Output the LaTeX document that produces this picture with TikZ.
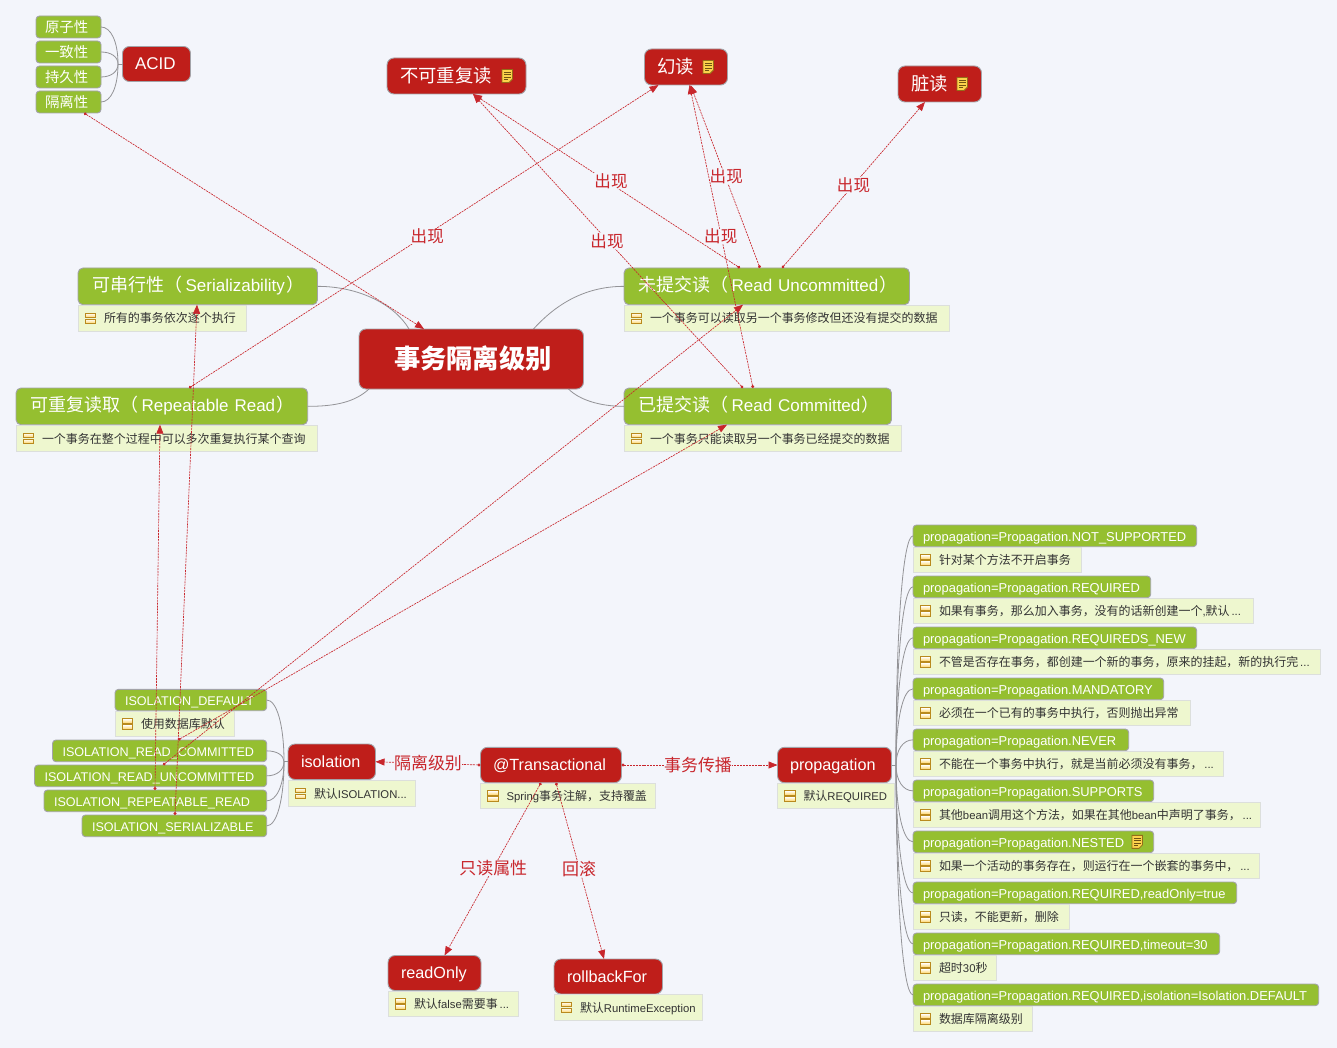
\documentclass[tikz,border=0pt]{standalone}
\usepackage{fontspec}
\setmainfont{Liberation Sans}
\newfontfamily\cjk[Scale=1.06]{Noto Sans CJK SC}
\newcommand{\Z}[1]{{\cjk #1}}
\usetikzlibrary{arrows.meta,calc}
\definecolor{bgc}{HTML}{F3F5FB}
\definecolor{grn}{HTML}{95BF30}
\definecolor{rd}{HTML}{BF1E1A}
\definecolor{edge}{HTML}{A3A3A8}
\definecolor{notec}{HTML}{EEF7CF}
\definecolor{noteb}{HTML}{DCDFDC}
\definecolor{relc}{HTML}{C8262C}
\definecolor{gold}{HTML}{B98A1E}
\tikzset{
  gbox/.style={draw=edge,fill=grn,rounded corners=3.5pt,line width=.9pt,text=white,outer sep=0pt},
  rbox/.style={draw=edge,fill=rd,rounded corners=7pt,line width=.9pt,text=white,outer sep=0pt},
  smallg/.style={gbox,font=\fontsize{13.6}{15}\selectfont,text height=12pt,text depth=0pt},
  tallg/.style={gbox,rounded corners=5pt,font=\fontsize{17}{19}\selectfont,text height=10.5pt,text depth=0pt},
  rowg/.style={gbox,font=\fontsize{12.9}{15}\selectfont,text height=11.5pt,text depth=0pt},
  isog/.style={gbox,font=\fontsize{12.6}{15}\selectfont,text height=10.5pt,text depth=0pt},
  redt/.style={rbox,font=\fontsize{16.2}{19}\selectfont,text height=11pt,text depth=0pt},
  redz/.style={rbox,font=\fontsize{17.3}{19}\selectfont,text height=12.5pt,text depth=0pt},
  redc/.style={rbox,font=\fontsize{24.8}{28}\bfseries\selectfont,text height=18pt,text depth=0pt},
  notebox/.style={draw=noteb,fill=notec,line width=.9pt,text=black!80,outer sep=0pt,font=\fontsize{11.3}{14}\selectfont,text height=9.5pt,text depth=0pt},
  tree/.style={draw=edge!90!black,line width=.8pt},
  rel/.style={draw=relc,line width=.65pt,dash pattern=on 2pt off .9pt,{Circle[length=3pt,fill=relc]}-{Triangle[length=9pt,width=7pt,fill=relc]}},
  lab/.style={fill=bgc,text=relc,inner sep=0pt,outer sep=0pt,font=\fontsize{15.6}{18}\selectfont},
  labw/.style={lab,font=\fontsize{16}{18}\selectfont},
  listicon/.pic={
    \draw[draw=gold,line width=.8pt,top color=white,bottom color=yellow!45!orange!60] (0,-5.2) rectangle (10.5,-.8);
    \draw[draw=gold,line width=.8pt,top color=white,bottom color=yellow!45!orange!60] (0,.8) rectangle (10.5,5.2);
  },
  docicon/.pic={
    \fill[draw=gold!80!black,line width=.8pt,fill=yellow!55!orange!70] (0,-6.5) -- (10.5,-6.5) -- (10.5,3) -- (7,6.5) -- (0,6.5) -- cycle;
    \draw[gold!60!black,line width=.7pt] (2,-3.8) -- (8.5,-3.8) (2,-1.4) -- (8.5,-1.4) (2,1) -- (8.5,1) (2,3.4) -- (6,3.4);
  },
}
\newcommand{\bx}[8]{%
  \pgfmathsetlengthmacro\bxw{#5-#3-2*#7}%
  \pgfmathsetlengthmacro\bxh{#6-#4}%
  \node[#1,anchor=north west,inner xsep=#7pt,inner ysep=0pt,minimum height=\bxh] (#2) at (#3,#4) {\makebox[\bxw][l]{#8}};}
\newcommand{\nt}[6]{%
  \bx{notebox}{#1}{#2}{#3}{#4}{#5}{26}{#6}%
  \pic at ([xshift=7pt]#1.west) {listicon};}
\newcommand{\grow}[4]{\draw[tree] (#1) .. controls ($(#1)!.6!(#1 |- #2.#3)$) and ($(#2.#3)+(#4,0)$) .. (#2.#3);}
% propagation row: id, top y, right of title, right of note, title, note
\newcommand{\prow}[6]{%
  \pgfmathsetmacro\yb{#2+21.7}\pgfmathsetmacro\yn{#2+22.5}\pgfmathsetmacro\ye{#2+47.5}%
  \bx{rowg}{pg#1}{913}{#2}{#3}{\yb}{10}{#5}%
  \nt{pn#1}{913}{\yn}{#4}{\ye}{#6}}
\begin{document}
\begin{tikzpicture}[x=1pt,y=-1pt]
\useasboundingbox (0,0) rectangle (1337,1048);
\fill[bgc] (0,0) rectangle (1337,1048);

% ---- nodes ----
\bx{smallg}{g1}{36}{16}{101}{38}{9}{\Z{原子性}}
\bx{smallg}{g2}{36}{41}{101}{63}{9}{\Z{一致性}}
\bx{smallg}{g3}{36}{66}{101}{88}{9}{\Z{持久性}}
\bx{smallg}{g4}{36}{91}{101}{113}{9}{\Z{隔离性}}
\bx{redt}{acid}{122.5}{46.5}{190.5}{81.5}{12.5}{\fontsize{17}{19}\selectfont ACID}
\bx{redz}{buke}{387}{58}{526}{94}{13}{\Z{不可重复读}}
\bx{redz}{huan}{644.5}{49}{727.5}{85}{13}{\Z{幻读}}
\bx{redz}{zang}{898}{66}{981.5}{102}{13}{\Z{脏读}}
\bx{redc}{center}{359}{329}{583.5}{389}{35}{\Z{事务隔离级别}}

\bx{tallg}{cx}{78}{268}{317.5}{304.7}{14}{\Z{可串行性（}\hspace{3.5pt}Serializability\hspace{1.5pt}\Z{）}}
\nt{cxn}{78}{305.5}{246.5}{331}{\Z{所有的事务依次逐个执行}}
\bx{tallg}{wt}{624}{268}{909.5}{304.7}{14}{\Z{未提交读（}\hspace{3.5pt}Read\hspace{6pt}Uncommitted\hspace{1.5pt}\Z{）}}
\nt{wtn}{624}{305.5}{949.5}{331}{\Z{一个事务可以读取另一个事务修改但还没有提交的数据}}
\bx{tallg}{rr}{16}{388}{307.7}{424.7}{14}{\Z{可重复读取（}\hspace{3.5pt}Repeatable\hspace{6pt}Read\hspace{1.5pt}\Z{）}}
\nt{rrn}{16}{425.5}{317.5}{451}{\Z{一个事务在整个过程中可以多次重复执行某个查询}}
\bx{tallg}{yt}{624}{388}{891.5}{424.7}{14}{\Z{已提交读（}\hspace{3.5pt}Read\hspace{6pt}Committed\hspace{1.5pt}\Z{）}}
\nt{ytn}{624}{425.5}{901.5}{451}{\Z{一个事务只能读取另一个事务已经提交的数据}}

\bx{isog}{idef}{115}{689.3}{266.7}{710.7}{10}{ISOLATION\_DEFAULT}
\nt{idefn}{115}{711.5}{234.5}{736.5}{\Z{使用数据库默认}}
\bx{isog}{icom}{52.5}{740}{266.7}{761.7}{10}{ISOLATION\_READ\_COMMITTED}
\bx{isog}{iunc}{34.5}{765}{266.7}{786.7}{10}{ISOLATION\_READ\_UNCOMMITTED}
\bx{isog}{irep}{44}{790}{266.7}{811.7}{10}{ISOLATION\_REPEATABLE\_READ}
\bx{isog}{iser}{82}{815}{266.7}{836.7}{10}{ISOLATION\_SERIALIZABLE}

\bx{redt}{iso}{288}{744}{375.5}{779.5}{13}{isolation}
\nt{ison}{288}{780.5}{415.5}{806}{\Z{默认}ISOLATION...}
\bx{redt}{trans}{480.5}{747.3}{621.5}{782.7}{12.5}{@Transactional}
\nt{transn}{480.5}{783.5}{655.5}{808.5}{Spring\Z{事务注解，支持覆盖}}
\bx{redt}{prop}{777.5}{747.3}{891.5}{782.7}{12.5}{propagation}
\nt{propn}{777.5}{783.5}{894.5}{808.5}{\Z{默认}REQUIRED}
\bx{redt}{ro}{388}{955.5}{481}{990.5}{13}{readOnly}
\nt{ron}{388}{991.5}{518.5}{1016.5}{\Z{默认}false\Z{需要事}\,...}
\bx{redt}{rb}{554}{959}{662.5}{994}{13}{rollbackFor}
\nt{rbn}{554}{994.5}{702.5}{1020}{\Z{默认}RuntimeException}

\prow{1}{525}{1196.7}{1081.7}{propagation=Propagation.NOT\_SUPPORTED}{\Z{针对某个方法不开启事务}}
\prow{2}{576}{1150.7}{1253.7}{propagation=Propagation.REQUIRED}{\Z{如果有事务，那么加入事务，没有的话新创建一个}{,}\Z{默认}\,...}
\prow{3}{627}{1196.7}{1320.7}{propagation=Propagation.REQUIREDS\_NEW}{\Z{不管是否存在事务，都创建一个新的事务，原来的挂起，新的执行完}\,...}
\prow{4}{678}{1163.7}{1190.7}{propagation=Propagation.MANDATORY}{\Z{必须在一个已有的事务中执行，否则抛出异常}}
\prow{5}{729}{1128.7}{1223.7}{propagation=Propagation.NEVER}{\Z{不能在一个事务中执行，就是当前必须没有事务，}\,...}
\prow{6}{780}{1153.7}{1260.7}{propagation=Propagation.SUPPORTS}{\Z{其他}bean\Z{调用这个方法，如果在其他}bean\Z{中声明了事务，}\,...}
\prow{7}{831}{1153.7}{1259.7}{propagation=Propagation.NESTED}{\Z{如果一个活动的事务存在，则运行在一个嵌套的事务中，}\,...}
\prow{8}{882}{1236.7}{1069.7}{propagation=Propagation.REQUIRED,readOnly=true}{\Z{只读，不能更新，删除}}
\prow{9}{933}{1219.7}{996.7}{propagation=Propagation.REQUIRED,timeout=30}{\Z{超时}30\Z{秒}}
\prow{10}{984}{1318.7}{1032.7}{propagation=Propagation.REQUIRED,isolation=Isolation.DEFAULT}{\Z{数据库隔离级别}}

\pic at ([xshift=115pt]buke.west) {docicon};
\pic at ([xshift=58.5pt]huan.west) {docicon};
\pic at ([xshift=59pt]zang.west) {docicon};
\pic at ([xshift=219pt]pg7.west) {docicon};

% ---- tree connectors ----
\coordinate (ja) at ([xshift=-4.5pt]acid.west);
\draw[tree] (acid.west) -- (ja);
\foreach \c in {g1,g2,g3,g4} {\grow{ja}{\c}{east}{10}}
\coordinate (ji) at ([xshift=-4pt]iso.west);
\draw[tree] (iso.west) -- (ji);
\foreach \c in {idef,icom,iunc,irep,iser} {\grow{ji}{\c}{east}{10}}
\coordinate (jp) at ([xshift=4.5pt]prop.east);
\draw[tree] (prop.east) -- (jp);
\foreach \c in {pg1,pg2,pg3,pg4,pg5,pg6,pg7,pg8,pg9,pg10} {\grow{jp}{\c}{west}{-10}}
\draw[tree] (cx.east) .. controls +(42,0) and ([xshift=36pt,yshift=24pt]center.north west) .. ([xshift=50pt]center.north west);
\draw[tree] (wt.west) .. controls +(-42,0) and ([xshift=-30pt,yshift=22pt]center.north east) .. ([xshift=-50pt]center.north east);
\draw[tree] (rr.east) .. controls +(28,0) and ([xshift=-4pt,yshift=-13pt]center.south west) .. ([xshift=10pt]center.south west);
\draw[tree] (yt.west) .. controls +(-24,0) and ([xshift=-4pt,yshift=-11pt]center.south east) .. ([xshift=-15pt]center.south east);

% ---- relations ----
\draw[rel] ([xshift=48pt]g4.south west) -- ([xshift=65pt]center.north west);
\draw[rel] ([xshift=173pt]rr.north west) -- node[lab,pos=.5,xshift=3.5pt] (l1) {\Z{出现}} ([xshift=14pt]huan.south west);
\draw[rel] ([xshift=116pt]wt.north west) -- node[lab,pos=.5,xshift=4.5pt] (l2) {\Z{出现}} ([xshift=86pt]buke.south west);
\draw[rel] ([xshift=136pt]wt.north west) -- node[lab,pos=.5,xshift=1pt] (l3) {\Z{出现}} ([xshift=46pt]huan.south west);
\draw[rel] ([xshift=158pt]wt.north west) -- node[lab,pos=.5] (l4) {\Z{出现}} ([xshift=27pt]zang.south west);
\draw[rel] ([xshift=119pt]yt.north west) -- node[lab,pos=.5,xshift=-1pt] (l5) {\Z{出现}} ([xshift=86pt]buke.south west);
\draw[rel] ([xshift=129pt]yt.north west) -- node[lab,pos=.5,xshift=-.5pt] (l6) {\Z{出现}} ([xshift=45pt]huan.south west);
\draw[rel] ([xshift=125.5pt]icom.north west) -- ([xshift=103pt]yt.south west);
\draw[rel] ([xshift=128.5pt]iunc.north west) -- ([xshift=119pt]wt.south west);
\draw[rel] ([xshift=111pt]irep.north west) -- ([xshift=144pt]rr.south west);
\draw[rel] ([xshift=93pt]iser.north west) -- ([xshift=119pt]cx.south west);
\draw[rel] (trans.west) -- node[labw,pos=.5] (l7) {\Z{隔离级别}} (iso.east);
\draw[rel] (trans.east) -- node[labw,pos=.5,xshift=-1.5pt] (l8) {\Z{事务传播}} (prop.west);
\draw[rel] ([xshift=60.5pt]trans.south west) -- node[labw,pos=.5,xshift=.5pt,yshift=1pt] (l9) {\Z{只读属性}} ([xshift=56.5pt]ro.north west);
\draw[rel] ([xshift=75.5pt]trans.south west) -- node[labw,pos=.5,xshift=-1pt,yshift=1.5pt] (l10) {\Z{回滚}} ([xshift=50pt]rb.north west);
\end{tikzpicture}
\end{document}
